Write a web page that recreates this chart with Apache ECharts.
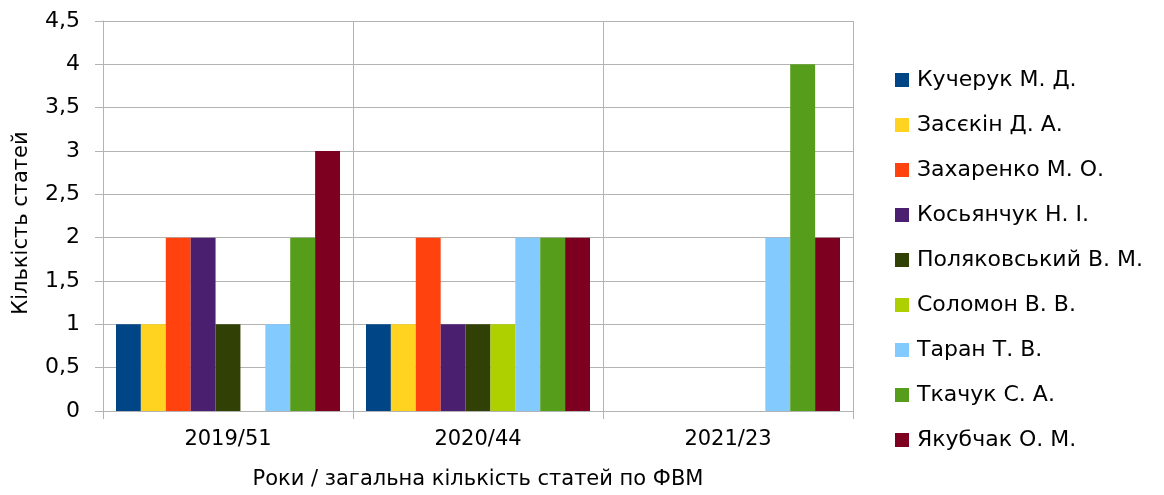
<!DOCTYPE html>
<html>
<head>
<meta charset="utf-8">
<script src="https://cdn.jsdelivr.net/npm/echarts@6/dist/echarts.min.js"></script>
<style>
  html, body { margin: 0; padding: 0; background: #fff; }
  #chart { width: 1164px; height: 495px; }
</style>
</head>
<body>
<div id="chart"></div>
<script>
const years = ['2019/51', '2020/44', '2021/23'];
const authors = [
    'Кучерук М. Д.', 'Засєкін Д. А.', 'Захаренко М. О.', 'Косьянчук Н. І.',
    'Поляковський В. М.', 'Соломон В. В.', 'Таран Т. В.', 'Ткачук С. А.', 'Якубчак О. М.'
];
// values per author, one per year
const kucheruk = [1, 1, 0];
const zasiekin = [1, 1, 0];
const zakharenko = [2, 2, 0];
const kosianchuk = [2, 1, 0];
const poliakovskyi = [1, 1, 0];
const solomon = [0, 1, 0];
const taran = [1, 2, 2];
const tkachuk = [2, 2, 4];
const yakubchak = [3, 2, 2];
const colors = ['#004586', '#ffd320', '#ff420e', '#4b1f6f', '#314004', '#aecf00', '#83caff', '#579d1c', '#7e0021'];
const yTicks = ['0', '0,5', '1', '1,5', '2', '2,5', '3', '3,5', '4', '4,5'];

const values = [kucheruk, zasiekin, zakharenko, kosianchuk, poliakovskyi, solomon, taran, tkachuk, yakubchak];
const font = '"DejaVu Sans", sans-serif';

const chart = echarts.init(document.getElementById('chart'));
chart.setOption({
    animation: false,
    textStyle: { fontFamily: font },
    grid: { left: 103, right: 311, top: 21, bottom: 83 },
    legend: {
        orient: 'vertical',
        left: 890,
        top: 64,
        itemWidth: 14,
        itemHeight: 14,
        itemGap: 23,
        icon: 'rect',
        textStyle: { fontSize: 22, lineHeight: 22, color: '#000', fontFamily: font, padding: [0, 0, 0, 3] },
        data: authors
    },
    xAxis: {
        type: 'category',
        data: years,
        name: 'Роки / загальна кількість статей по ФВМ',
        nameLocation: 'middle',
        nameGap: 58,
        nameTextStyle: { fontSize: 21, color: '#000', fontFamily: font },
        axisLine: { lineStyle: { color: '#b3b3b3' } },
        axisTick: { show: true, length: 8, lineStyle: { color: '#b3b3b3' } },
        axisLabel: { fontSize: 21, color: '#000', margin: 18, fontFamily: font },
        splitLine: { show: true, lineStyle: { color: '#b3b3b3' } }
    },
    yAxis: {
        type: 'value',
        min: 0,
        max: 4.5,
        interval: 0.5,
        name: 'Кількість статей',
        nameLocation: 'middle',
        nameGap: 71,
        nameTextStyle: { fontSize: 21, color: '#000', fontFamily: font, padding: [0, 14, 0, 0] },
        axisLine: { show: true, lineStyle: { color: '#b3b3b3' } },
        axisTick: { show: true, length: 8, lineStyle: { color: '#b3b3b3' } },
        axisLabel: {
            fontSize: 22, color: '#000', margin: 23, fontFamily: font,
            formatter: v => yTicks[Math.round(v * 2)]
        },
        splitLine: { show: true, lineStyle: { color: '#b3b3b3' } }
    },
    series: authors.map((name, i) => ({
        name: name,
        type: 'bar',
        data: values[i],
        barGap: '0%',
        barCategoryGap: '10.4%',
        itemStyle: { color: colors[i] }
    }))
});
</script>
</body>
</html>
